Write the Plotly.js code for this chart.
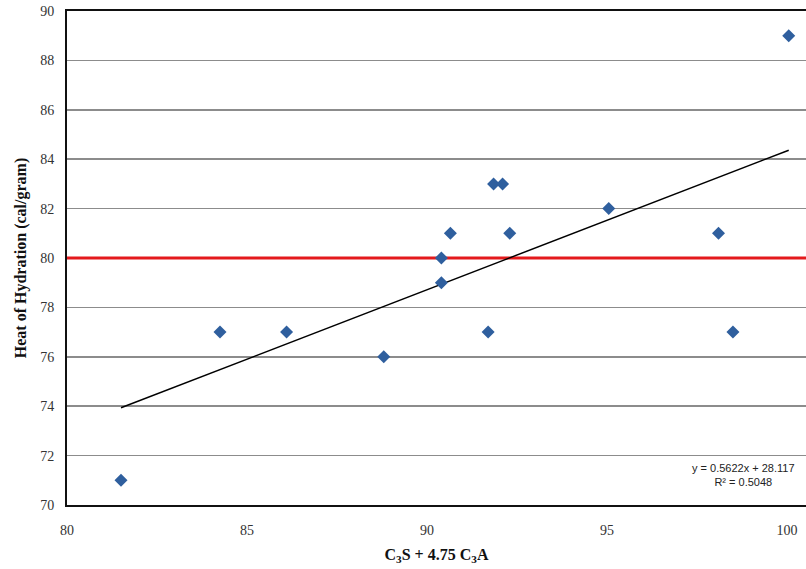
<!DOCTYPE html>
<html>
<head>
<meta charset="utf-8">
<script src="https://cdn.plot.ly/plotly-3.0.1.min.js"></script>
<style>html,body{margin:0;padding:0;background:#fff;}#chart{width:806px;height:569px;}</style>
</head>
<body>
<div id="chart"></div>
<script>
const xValues = [81.5, 84.25, 86.1, 88.8, 90.4, 90.4, 90.65, 91.7, 91.85, 92.1, 92.3, 95.05, 98.1, 98.5, 100.05];
const yValues = [71, 77, 77, 76, 80, 79, 81, 77, 83, 83, 81, 82, 81, 77, 89];
const trendSlope = 0.5622;
const trendIntercept = 28.117;
const trendX = [81.5, 100.05];
const limitY = 80;
const xTicks = [80, 85, 90, 95, 100];
const yTicks = [70, 72, 74, 76, 78, 80, 82, 84, 86, 88, 90];
const xRange = [80, 100.53];

const trendY = trendX.map(x => trendSlope * x + trendIntercept);

const traces = [
  {
    x: xRange, y: [limitY, limitY], mode: 'lines', type: 'scatter',
    line: {color: '#e41a1c', width: 3}, hoverinfo: 'skip', showlegend: false, cliponaxis: false
  },
  {
    x: trendX, y: trendY, mode: 'lines', type: 'scatter',
    line: {color: '#000000', width: 1.5}, showlegend: false
  },
  {
    x: xValues, y: yValues, mode: 'markers', type: 'scatter',
    marker: {symbol: 'diamond', size: 10, color: '#2f5f9e'}, showlegend: false
  }
];

const layout = {
  width: 806, height: 569,
  margin: {l: 67, r: 0, t: 11, b: 64},
  paper_bgcolor: '#ffffff', plot_bgcolor: '#ffffff',
  font: {family: 'Liberation Serif, Times New Roman, serif', size: 14, color: '#333333'},
  xaxis: {
    range: xRange, tickvals: xTicks, ticktext: xTicks.map(String),
    showgrid: false, zeroline: false,
    showline: true, linecolor: '#111', linewidth: 2, mirror: true,
    ticks: 'outside', ticklen: 11, tickcolor: 'rgba(0,0,0,0)',
    tickfont: {family: 'Liberation Serif, serif', size: 14, color: '#333333'},
    title: {text: '<b>C<sub>3</sub>S + 4.75 C<sub>3</sub>A</b>', font: {family: 'Liberation Serif, serif', size: 16, color: '#111'}, standoff: 12}
  },
  yaxis: {
    range: [70, 90], tickvals: yTicks, ticktext: yTicks.map(String),
    showgrid: true, gridcolor: '#8c8c8c', gridwidth: 1.5, zeroline: false,
    showline: true, linecolor: '#111', linewidth: 2, mirror: false,
    ticks: 'outside', ticklen: 8, tickcolor: 'rgba(0,0,0,0)',
    tickfont: {family: 'Liberation Serif, serif', size: 14, color: '#333333'},
    title: {text: '<b>Heat of Hydration (cal/gram)</b>', font: {family: 'Liberation Serif, serif', size: 16, color: '#111'}, standoff: 10}
  },
  annotations: [
    {
      xref: 'paper', yref: 'paper', x: 0.988, y: 0.06, xanchor: 'right', yanchor: 'middle',
      text: 'y = 0.5622x + 28.117<br>R² = 0.5048', align: 'center', showarrow: false,
      font: {family: 'Liberation Sans, Arial, sans-serif', size: 11, color: '#222'}
    }
  ]
};

Plotly.newPlot('chart', traces, layout, {staticPlot: true, displayModeBar: false});
</script>
</body>
</html>
